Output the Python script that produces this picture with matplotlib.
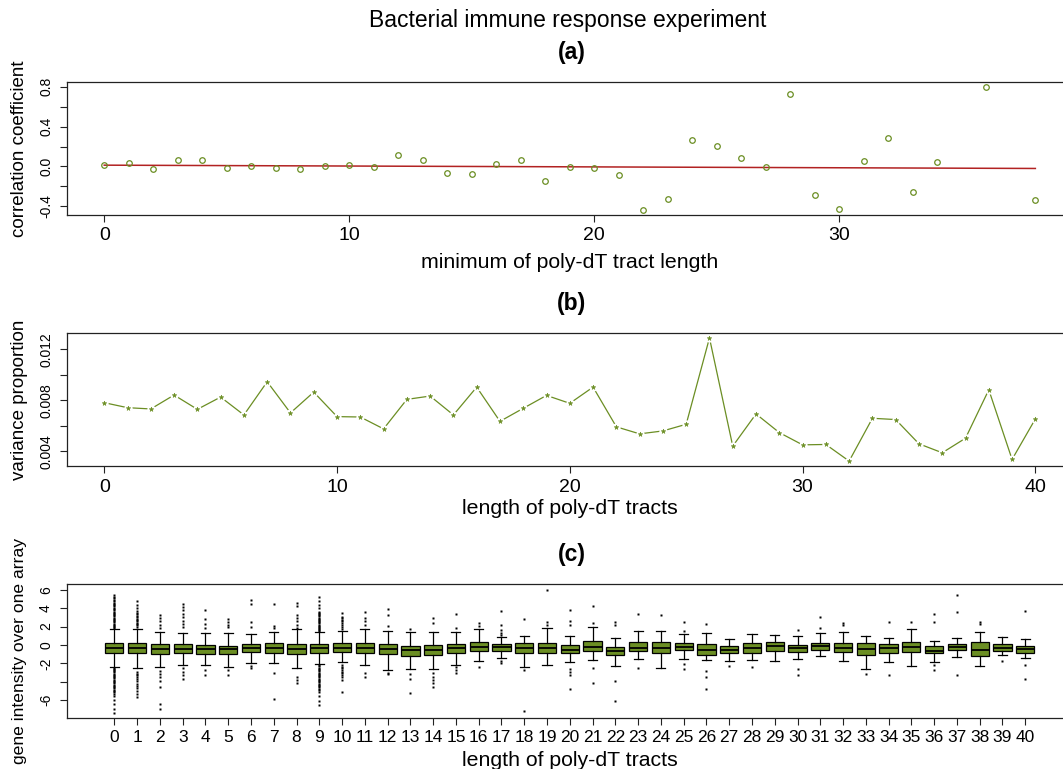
import numpy as np
import matplotlib
matplotlib.use("Agg")
import matplotlib.pyplot as plt

plt.rcParams['font.family'] = ['Liberation Sans', 'DejaVu Sans']

# ---------------- data ----------------
# (a) correlation coefficient vs minimum poly-dT tract length
corr_len = [0, 1, 2, 3, 4, 5, 6, 7, 8, 9, 10, 11, 12, 13, 14, 15, 16, 17, 18, 19,
            20, 21, 22, 23, 24, 25, 26, 27, 28, 29, 30, 31, 32, 33, 34, 36, 38]
corr_val = [0.013, 0.037, -0.030, 0.063, 0.060, -0.020, 0.007, -0.020, -0.030, 0.000,
            0.013, -0.003, 0.117, 0.063, -0.070, -0.080, 0.027, 0.063, -0.143, -0.010,
            -0.020, -0.083, -0.437, -0.327, 0.267, 0.210, 0.087, -0.007, 0.730, -0.290,
            -0.427, 0.057, 0.287, -0.253, 0.040, 0.797, -0.337]
fit_x = [0, 38]
fit_y = [0.013, -0.020]

# (b) variance proportion vs length of poly-dT tracts
var_len = list(range(41))
var_val = [0.00782, 0.00743, 0.00733, 0.00842, 0.00730, 0.00826, 0.00686, 0.00946, 0.00702, 0.00865,
           0.00673, 0.00670, 0.00577, 0.00808, 0.00834, 0.00686, 0.00904, 0.00636, 0.00738, 0.00839,
           0.00777, 0.00904, 0.00593, 0.00538, 0.00561, 0.00613, 0.01289, 0.00442, 0.00694, 0.00548,
           0.00452, 0.00455, 0.00325, 0.00660, 0.00650, 0.00460, 0.00390, 0.00504, 0.00883, 0.00338,
           0.00655]

# (c) gene intensity box plots per tract length
box_len = list(range(41))
box_q1 = [-0.87, -0.87, -0.95, -0.87, -0.95, -1.02, -0.76, -0.84, -0.98, -0.84,
          -0.76, -0.84, -1.02, -1.16, -1.09, -0.84, -0.62, -0.62, -0.87, -0.91,
          -0.91, -0.69, -1.13, -0.65, -0.87, -0.55, -1.05, -0.91, -0.84, -0.62,
          -0.73, -0.58, -0.80, -1.09, -0.87, -0.80, -0.91, -0.51, -1.16, -0.62,
          -0.84]
box_med = [-0.36, -0.29, -0.44, -0.44, -0.44, -0.47, -0.36, -0.29, -0.44, -0.29,
           -0.29, -0.29, -0.44, -0.55, -0.50, -0.36, -0.25, -0.25, -0.36, -0.29,
           -0.58, -0.25, -0.62, -0.36, -0.29, -0.18, -0.55, -0.55, -0.36, -0.15,
           -0.36, -0.15, -0.33, -0.44, -0.36, -0.25, -0.62, -0.18, -0.55, -0.29,
           -0.44]
box_q3 = [0.18, 0.25, 0.07, 0.07, 0.00, -0.07, 0.07, 0.18, 0.11, 0.07,
          0.18, 0.25, 0.11, -0.07, 0.05, 0.11, 0.36, 0.07, 0.25, 0.25,
          0.00, 0.47, -0.18, 0.29, 0.29, 0.18, 0.07, -0.11, 0.18, 0.36,
          0.00, 0.18, 0.25, 0.25, 0.15, 0.36, -0.11, 0.15, 0.33, 0.07,
          -0.07]
box_wlo = [-2.36, -2.47, -2.44, -2.15, -2.18, -2.36, -2.00, -2.00, -2.55, -2.07,
           -1.89, -2.18, -2.73, -2.65, -2.62, -2.18, -1.71, -1.38, -2.36, -2.18,
           -1.82, -1.64, -2.25, -1.53, -2.47, -1.53, -1.67, -1.78, -1.60, -1.71,
           -1.49, -1.20, -1.75, -2.65, -1.85, -2.33, -1.82, -1.35, -2.29, -1.13,
           -1.45]
box_whi = [1.71, 1.78, 1.45, 1.27, 1.27, 1.27, 1.20, 1.45, 1.71, 1.38,
           1.56, 1.75, 1.56, 1.45, 1.38, 1.45, 1.75, 0.84, 1.02, 1.82,
           1.02, 2.00, 0.80, 1.56, 1.56, 1.20, 1.35, 0.65, 1.16, 1.05,
           1.02, 1.27, 1.38, 0.98, 0.73, 1.78, 0.47, 0.73, 1.38, 0.91,
           0.62]
box_fliers = [
    [1.88, 1.97, 2.08, 2.20, 2.31, 2.45, 2.56, 2.70, 2.83, 2.95, 3.10, 3.22, 3.37, 3.50,
     3.63, 3.78, 3.90, 4.05, 4.18, 4.32, 4.47, 4.60, 4.76, 4.90, 5.05, 5.20, 5.38,
     -2.45, -2.57, -2.70, -2.83, -2.95, -3.10, -3.22, -3.36, -3.50, -3.62, -3.77, -3.90,
     -4.04, -4.17, -4.30, -4.45, -4.58, -4.72, -4.85, -5.00, -5.13, -5.30, -5.53, -6.00,
     -6.44, -6.90, -7.40],
    [2.00, 2.13, 2.27, 2.40, 2.55, 2.70, 2.86, 3.00, 3.15, 3.32, 3.50, 3.68, 4.00, 4.35, 4.73,
     -2.90, -3.10, -3.30, -3.50, -3.70, -3.95, -4.20, -4.45, -4.70, -5.00, -5.30, -5.60],
    [1.82, 2.18, 2.55, 2.90, 3.27, -2.80, -3.16, -3.53, -3.90, -4.55, -6.40, -6.90],
    [1.93, 2.30, 2.65, 3.00, 3.38, 3.75, 4.10, 4.47, -2.55, -2.90, -3.27, -3.70],
    [1.82, 2.29, 2.80, 3.75, -2.73, -3.27],
    [1.93, 2.22, 2.50, 2.80, -2.73, -3.27],
    [2.00, 2.44, 4.44, 4.90, -2.29, -2.50],
    [1.82, 2.11, 4.47, -3.09, -5.90],
    [1.85, 2.18, 2.55, 2.90, 3.27, 4.25, 4.55, -3.45, -3.82, -4.10],
    [1.50, 1.62, 1.74, 1.86, 1.98, 2.10, 2.22, 2.35, 2.47, 2.60, 2.72, 2.85, 2.97, 3.10,
     3.22, 3.35, 3.50, 3.62, 4.00, 4.36, 4.82, 5.24,
     -2.20, -2.33, -2.46, -2.60, -2.73, -2.86, -3.00, -3.13, -3.26, -3.40, -3.53, -3.67,
     -3.80, -3.93, -4.07, -4.20, -4.33, -4.47, -4.60, -4.75, -4.90, -5.16, -5.53, -6.07,
     -6.55],
    [1.70, 2.00, 2.20, 2.36, 2.55, 2.73, 2.90, 3.09, 3.45, -2.20, -2.36, -2.55, -2.73,
     -2.90, -3.09, -3.27, -3.45, -3.82, -5.09],
    [2.18, 2.55, 2.90, 3.53, -3.02, -3.53],
    [2.07, 3.20, 3.93, -3.00, -3.20],
    [1.75, -3.20, -3.70, -5.20],
    [2.36, 2.90, -3.09, -3.45, -3.82, -4.18, -4.55],
    [1.89, 3.31, -2.44, -2.73, -3.02],
    [2.07, 2.36, -2.36],
    [1.09, 1.35, 1.64, 2.18, 3.64, -1.75, -2.00],
    [2.84, -2.73, -7.16],
    [2.18, 2.44, 6.00],
    [2.22, 2.65, 3.82, -2.65, -2.95, -3.24, -4.76],
    [2.36, 4.25, -2.47, -4.11],
    [2.18, 2.44, -3.89, -6.07],
    [3.31, -2.47],
    [3.20],
    [1.56, 2.44, -2.07, -2.58],
    [2.33, -2.80, -3.49, -4.76],
    [-2.29],
    [-2.40],
    [],
    [1.64, -2.62, -3.24],
    [1.89, 3.09],
    [2.18, 2.36],
    [-3.16],
    [2.51, -3.27],
    [2.51],
    [2.44, 3.31, -2.18, -2.73],
    [3.53, 5.38, -3.24],
    [2.29, 2.44],
    [-1.71],
    [3.64, -2.18, -3.71],
]

# ---------------- layout ----------------
W, H = 1063, 769
fig = plt.figure(figsize=(W / 100, H / 100), dpi=100)

OLIVE = '#6B8E23'
LEFT, RIGHT = 67, 1072.6


def ax_at(top, bottom):
    return fig.add_axes([LEFT / W, 1 - bottom / H, (RIGHT - LEFT) / W, (bottom - top) / H])


def style(ax, xtick_size):
    for s in ax.spines.values():
        s.set_linewidth(0.9)
        s.set_color('#222222')
    ax.tick_params(axis='both', direction='out', length=5, width=0.8, color='#222222')
    ax.tick_params(axis='x', labelsize=xtick_size, pad=4)
    ax.tick_params(axis='y', labelsize=10, labelrotation=90, pad=5)
    for lab in ax.get_yticklabels():
        lab.set_va('center')


def labels(ax, xl, yl, xlpos, ylsize=13.5):
    ax.set_xlabel(xl, fontsize=15.3)
    ax.xaxis.set_label_coords(0.5, xlpos)
    ax.xaxis.label.set_va('center')
    ax.set_ylabel(yl, fontsize=ylsize)
    ax.yaxis.set_label_coords((20 - LEFT) / (RIGHT - LEFT), 0.5)
    ax.yaxis.label.set_va('center')


fig.text(568 / W, 1 - 20 / H, 'Bacterial immune response experiment', ha='center', va='center',
         fontsize=16.5)
for lab, y in [('(a)', 52), ('(b)', 303), ('(c)', 554)]:
    fig.text(572 / W, 1 - y / H, lab, ha='center', va='center', fontsize=16.5, fontweight='bold')

# (a)
ax1 = ax_at(82, 215)
ax1.plot(fit_x, fit_y, color='#B22222', lw=1.1, zorder=2)
ax1.plot(corr_len, corr_val, 'o', ms=4, mfc='none', mec=OLIVE, mew=0.9, zorder=3)
ax1.set_xlim(-1.52, 39.52)
ax1.margins(y=0.04)
ax1.set_xticks([0, 10, 20, 30])
yt = [-0.4, -0.2, 0.0, 0.2, 0.4, 0.6, 0.8]
ax1.set_yticks(yt)
ax1.set_yticklabels(['-0.4', '', '0.0', '', '0.4', '', '0.8'])
style(ax1, 14)
labels(ax1, 'minimum of poly-dT tract length', 'correlation coefficient', (215 - 262) / 133)

# (b)
ax2 = ax_at(333, 466)
ax2.plot(var_len, var_val, '-', color=OLIVE, lw=0.9, zorder=1)
ax2.plot(var_len, var_val, 'o', ms=6, mfc='white', mec='none', zorder=2)
ax2.plot(var_len, var_val, '*', ms=3.5, color=OLIVE, mew=0.4, zorder=3)
ax2.set_xlim(-1.6, 41.6)
ax2.margins(y=0.04)
ax2.set_xticks([0, 10, 20, 30, 40])
ax2.set_yticks([0.004, 0.006, 0.008, 0.010, 0.012])
ax2.set_yticklabels(['0.004', '', '0.008', '', '0.012'])
style(ax2, 14)
labels(ax2, 'length of poly-dT tracts', 'variance proportion', (466 - 509) / 133)

# (c)
ax3 = ax_at(584, 718)
stats = []
for i in range(len(box_len)):
    stats.append(dict(med=box_med[i], q1=box_q1[i], q3=box_q3[i],
                      whislo=box_wlo[i], whishi=box_whi[i], fliers=box_fliers[i]))
ax3.bxp(stats, positions=box_len, widths=0.8, capwidths=0.4, patch_artist=True,
        manage_ticks=False,
        boxprops=dict(facecolor=OLIVE, edgecolor='black', linewidth=0.9),
        medianprops=dict(color='black', linewidth=1.3),
        whiskerprops=dict(color='black', linewidth=0.9),
        capprops=dict(color='black', linewidth=0.9),
        flierprops=dict(marker='s', markersize=1.8, markerfacecolor='black',
                        markeredgecolor='none', linestyle='none'))
ax3.set_xlim(-2.08, 42.08)
ax3.set_ylim(-7.93, 6.62)
ax3.set_xticks(box_len)
ax3.set_xticklabels([str(v) for v in box_len])
ax3.set_yticks([-6, -4, -2, 0, 2, 4, 6])
ax3.set_yticklabels(['-6', '', '-2', '0', '2', '4', '6'])
style(ax3, 12.5)
labels(ax3, 'length of poly-dT tracts', 'gene intensity over one array', (718 - 760) / 134,
       ylsize=12.6)

fig.savefig('out.png', dpi=100)
